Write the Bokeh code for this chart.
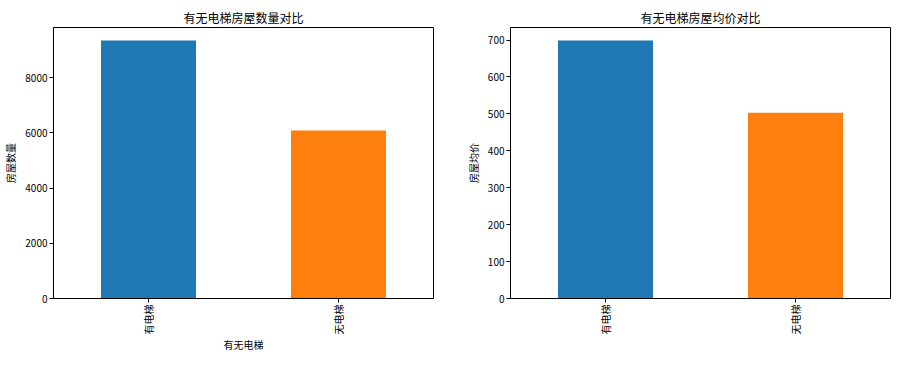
from bokeh.plotting import figure
from bokeh.layouts import row, column
from bokeh.models import ColumnDataSource, FactorRange, Range1d, FixedTicker, Spacer
from bokeh.embed import file_html
from bokeh.resources import INLINE
import math

categories = ["有电梯", "无电梯"]
counts = [9350, 6090]
prices = [699, 503]
colors = ["#1f77b4", "#ff7f0e"]
count_ticks = [0, 2000, 4000, 6000, 8000]
price_ticks = [0, 100, 200, 300, 400, 500, 600, 700]

FONT = "Noto Sans CJK SC"


def make(title, values, ticks, ylabel, xlabel, border_left, border_right):
    src = ColumnDataSource(dict(cat=categories, v=values, c=colors))
    p = figure(
        x_range=FactorRange(*categories),
        y_range=Range1d(0, max(values) * 1.05),
        frame_width=380, frame_height=271,
        output_backend="svg", toolbar_location=None,
        min_border_left=border_left, min_border_right=border_right,
        min_border_top=22, min_border_bottom=50,
    )
    p.vbar(x="cat", top="v", width=0.5, color="c", source=src, line_color=None)
    p.title.text = title
    p.title.align = "center"
    p.title.text_font = FONT
    p.title.text_font_size = "12px"
    p.title.text_font_style = "normal"
    p.title.text_color = "black"
    p.title.standoff = 4
    p.xgrid.grid_line_color = None
    p.ygrid.grid_line_color = None
    p.outline_line_color = "black"
    p.outline_line_alpha = 1
    p.outline_line_width = 1
    for ax in (p.xaxis[0], p.yaxis[0]):
        ax.axis_line_color = "black"
        ax.major_tick_line_color = "black"
        ax.major_tick_out = 4
        ax.major_tick_in = 0
        ax.minor_tick_line_color = None
        ax.major_label_text_font = FONT
        ax.major_label_text_font_size = "10px"
        ax.major_label_text_color = "black"
        ax.axis_label_text_font = FONT
        ax.axis_label_text_font_size = "10px"
        ax.axis_label_text_font_style = "normal"
        ax.axis_label_text_color = "black"
        ax.major_label_standoff = 2
    p.yaxis[0].ticker = FixedTicker(ticks=ticks)
    p.yaxis[0].axis_label = ylabel
    p.yaxis[0].axis_label_standoff = 4
    p.xaxis[0].major_label_orientation = math.pi / 2
    p.xaxis[0].major_label_text_font_size = "10px"
    p.xaxis[0].major_label_standoff = 2
    if xlabel:
        p.xaxis[0].axis_label = xlabel
        p.xaxis[0].axis_label_standoff = 0
    return p


p1 = make("有无电梯房屋数量对比", counts, count_ticks, "房屋数量", "有无电梯", 45, 29)
p2 = make("有无电梯房屋均价对比", prices, price_ticks, "房屋均价", None, 45, 10)

layout = column(Spacer(height=4), row(p1, p2))
open("out.html", "w").write(file_html(layout, INLINE))
